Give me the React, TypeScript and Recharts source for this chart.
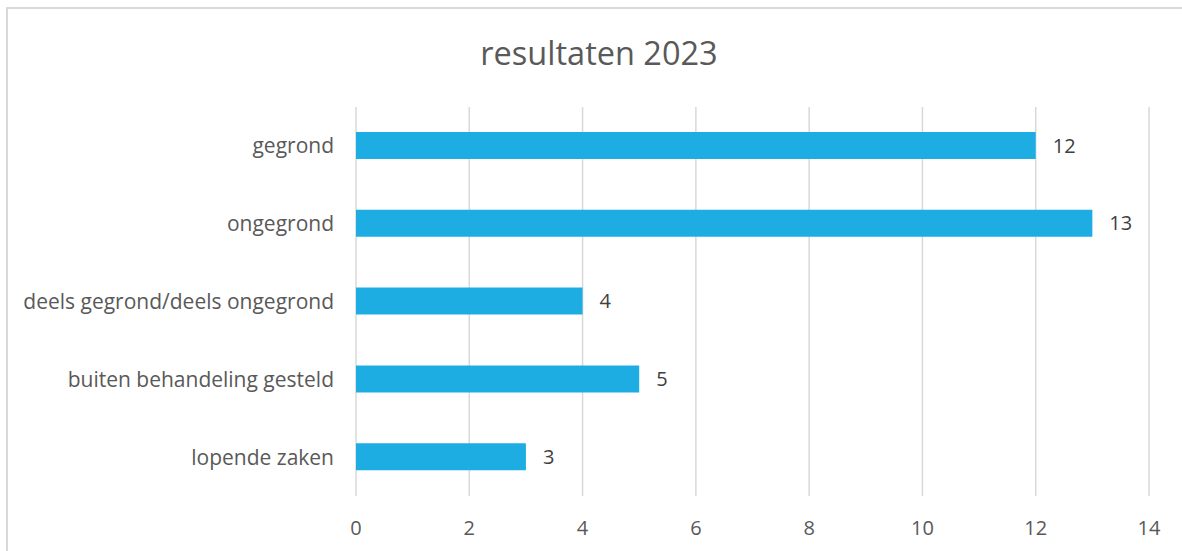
import { BarChart, Bar, XAxis, YAxis, CartesianGrid, LabelList } from 'recharts';

const categories = [
  'gegrond',
  'ongegrond',
  'deels gegrond/deels ongegrond',
  'buiten behandeling gesteld',
  'lopende zaken',
];
const counts = [12, 13, 4, 5, 3];
const xTicks = [0, 2, 4, 6, 8, 10, 12, 14];

const data = categories.map((name, i) => ({ name, count: counts[i] }));

const FONT = '"Open Sans", Lato, sans-serif';

export default function App() {
  return (
    <div
      style={{
        position: 'absolute',
        left: 6,
        top: 7,
        width: 1178,
        height: 560,
        border: '2px solid #d9d9d9',
        boxSizing: 'border-box',
        background: '#fff',
        fontFamily: FONT,
      }}
    >
      {/* title */}
      <div
        style={{
          position: 'absolute',
          left: 8,
          right: 0,
          top: 21,
          textAlign: 'center',
          fontSize: 32.5,
          color: '#595959',
        }}
      >
        resultaten 2023
      </div>
      <div style={{ position: 'absolute', left: -2, top: -2 }}>
        <BarChart
          width={1178}
          height={560}
          data={data}
          layout="vertical"
          margin={{ top: 100, right: 35, bottom: 31, left: 0 }}
        >
          <CartesianGrid horizontal={false} stroke="#d9d9d9" strokeWidth={1.5} />
          <XAxis
            type="number"
            domain={[0, 14]}
            ticks={xTicks}
            axisLine={false}
            tickLine={false}
            tickSize={0}
            tickMargin={25}
            height={40}
            tick={{ fill: '#595959', fontSize: 20, fontFamily: FONT }}
          />
          <YAxis
            type="category"
            dataKey="name"
            width={350}
            axisLine={false}
            tickLine={false}
            tickSize={0}
            tickMargin={22}
            tick={{ fill: '#595959', fontSize: 21, fontFamily: FONT }}
          />
          <Bar dataKey="count" fill="#1eade3" barSize={27} isAnimationActive={false}>
            <LabelList
              dataKey="count"
              position="right"
              offset={17}
              fill="#404040"
              fontSize={20}
              fontFamily={FONT}
            />
          </Bar>
        </BarChart>
      </div>
    </div>
  );
}
